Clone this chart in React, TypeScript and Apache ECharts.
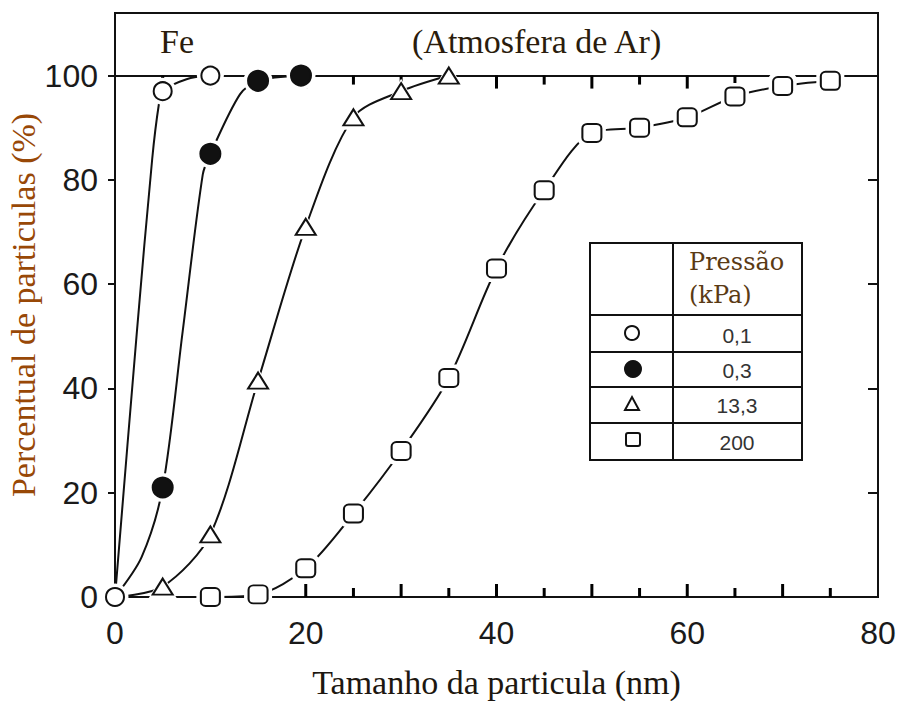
import React, { useEffect, useRef } from "react";
import * as echarts from "echarts";

// ---- data ----
const yLabelValues = [0, 20, 40, 60, 80, 100];
const yRightTicks = [20, 40, 60, 80];
const xMajorTicks = [10, 20, 30, 40, 50, 60, 70];
const xMinorTicks = [5, 15, 25, 35, 45, 55, 65, 75];

// Pressão 0,1 kPa (open circles)
const markers01 = [[0, 0], [5, 97], [10, 100]];
const curve01 = [[0, 0], [2.3, 51], [3.9, 84], [4.6, 94.5], [5, 97], [7.5, 99.3], [10, 100]];

// Pressão 0,3 kPa (filled circles)
const markers03 = [[5, 21], [10, 85], [15, 99], [19.5, 100]];
const curve03 = [[0, 0], [2.8, 7.7], [5, 21], [7.1, 51], [9.2, 81], [10, 85], [13.1, 96.4], [15, 99], [19.5, 100]];

// Pressão 13,3 kPa (triangles)
const markers133 = [[5, 2], [10, 12], [15, 41.5], [20, 71], [25, 92], [30, 97], [35, 100]];
const curve133 = [[0, 0], [5, 2], [10, 12], [15, 41.5], [20, 71], [25, 92], [30, 97], [35, 100]];

// Pressão 200 kPa (squares)
const markers200 = [[10, 0], [15, 0.5], [20, 5.5], [25, 16], [30, 28], [35, 42], [40, 63], [45, 78], [50, 89], [55, 90], [60, 92], [65, 96], [70, 98], [75, 99]];

const pressureLabels = ["0,1", "0,3", "13,3", "200"];

const INK = "#111";
const SANS = "'Liberation Sans', Arial, sans-serif";
const SERIF = "'Liberation Serif', 'Times New Roman', serif";

function group(name: string, curve: number[][], markers: number[][], symbol: string, size: number | number[], fill: string, smooth: number) {
  const haloSize = Array.isArray(size) ? size.map((s) => s + 9) : size + 9;
  return [
    {
      name,
      type: "line",
      data: curve,
      showSymbol: false,
      symbol: "none",
      smooth,
      lineStyle: { color: INK, width: 2 },
      z: 2,
      silent: true,
    },
    {
      name: name + " halo",
      type: "scatter",
      data: markers,
      symbol,
      symbolSize: haloSize,
      itemStyle: { color: "#fff", borderWidth: 0, opacity: 1 },
      z: 3,
      silent: true,
    },
    {
      name: name + " pts",
      type: "scatter",
      data: markers,
      symbol,
      symbolSize: size,
      itemStyle: { color: fill, borderColor: INK, borderWidth: 2, opacity: 1 },
      z: 4,
    },
  ];
}

// x tick marks as thin rect symbols placed through the axes' scales
function tickScatter(values: number[], yValue: number, len: number, dir: number) {
  return {
    type: "scatter",
    data: values.map((v) => [v, yValue]),
    symbol: "rect",
    symbolSize: [3, len],
    symbolOffset: [0, (dir * len) / 2],
    itemStyle: { color: "#000", opacity: 1, borderWidth: 0 },
    z: 1,
    silent: true,
    clip: false,
  };
}

export default function App() {
  const ref = useRef<HTMLDivElement>(null);
  useEffect(() => {
    if (!ref.current) return;
    const chart = echarts.init(ref.current, undefined, { renderer: "svg" });

    const tableX = 590, tableY = 243, tableW = 212, tableH = 217, divX = 673;
    const rowLines = [315, 352, 387, 423];
    const rowCenters = [335, 370, 405, 442];

    const option: any = {
      animation: false,
      backgroundColor: "#fff",
      grid: { left: 115, right: 26, top: 13, bottom: 104, containLabel: false, outerBoundsMode: "none", show: true, borderColor: INK, borderWidth: 2, backgroundColor: "transparent" },
      xAxis: [
        {
          type: "value",
          min: 0,
          max: 80,
          interval: 20,
          name: "Tamanho da particula (nm)",
          nameLocation: "middle",
          nameGap: 68,
          nameMoveOverlap: false,
          nameTextStyle: { fontFamily: SERIF, fontSize: 34, color: "#1d1710" },
          axisLine: { show: true, onZero: false, lineStyle: { color: INK, width: 2 } },
          axisTick: { show: false },
          axisLabel: { fontFamily: SANS, fontSize: 32, color: "#1a1a1a", margin: 20 },
          splitLine: { show: false },
        },
        {
          type: "value",
          position: "top",
          offset: -63,
          min: 0,
          max: 80,
          interval: 10,
          axisLine: { show: true, onZero: false, lineStyle: { color: INK, width: 2 } },
          axisTick: { show: false },
          axisLabel: { show: false },
          splitLine: { show: false },
        },
      ],
      yAxis: [
        {
          type: "value",
          min: 0,
          max: 112,
          interval: 20,
          name: "Percentual de particulas (%)",
          nameLocation: "middle",
          nameGap: 75,
          nameMoveOverlap: false,
          nameTextStyle: { fontFamily: SERIF, fontSize: 34, color: "#984807" },
          axisLine: { show: true, onZero: false, lineStyle: { color: INK, width: 2 } },
          axisTick: { show: true, inside: false, length: 7, lineStyle: { color: INK, width: 2 }, customValues: yLabelValues },
          axisLabel: { customValues: yLabelValues, fontFamily: SANS, fontSize: 32, color: "#1a1a1a", margin: 17 },
          splitLine: { show: false },
        },
        {
          type: "value",
          position: "right",
          min: 0,
          max: 112,
          interval: 20,
          axisLine: { show: true, onZero: false, lineStyle: { color: INK, width: 2 } },
          axisTick: { show: true, inside: true, length: 10, lineStyle: { color: INK, width: 2 }, customValues: yRightTicks },
          axisLabel: { show: false },
          splitLine: { show: false },
        },
      ],
      series: [
        tickScatter(xMajorTicks, 0, 13, -1),
        tickScatter(xMinorTicks, 0, 9, -1),
        tickScatter(xMajorTicks, 100, 13, 1),
        tickScatter(xMinorTicks, 100, 9, 1),
        ...group("0,1 kPa", curve01, markers01, "circle", 18, "#fff", 0.3),
        ...group("0,3 kPa", curve03, markers03, "circle", 20, INK, 0.3),
        ...group("13,3 kPa", curve133, markers133, "triangle", [20, 16], "#fff", 0.3),
        ...group("200 kPa", markers200, markers200, "roundRect", [19, 18], "#fff", 0.3),
      ],
      graphic: [
        { type: "text", left: 160, top: 24, style: { text: "Fe", font: `34px ${SERIF}`, fill: "#2a1c0c" } },
        { type: "text", left: 412, top: 24, style: { text: "(Atmosfera de Ar)", font: `34px ${SERIF}`, fill: "#2a1c0c" } },
        {
          type: "group",
          children: [
            { type: "rect", shape: { x: tableX, y: tableY, width: tableW, height: tableH }, style: { fill: "#fff", stroke: INK, lineWidth: 2 } },
            { type: "line", shape: { x1: divX, y1: tableY, x2: divX, y2: tableY + tableH }, style: { stroke: INK, lineWidth: 2 } },
            ...rowLines.map((y) => ({ type: "line", shape: { x1: tableX, y1: y, x2: tableX + tableW, y2: y }, style: { stroke: INK, lineWidth: 2 } })),
            { type: "text", x: 689, y: 262, style: { text: "Pressão", font: `24px 'DejaVu Serif', serif`, fill: "#5a3a14", verticalAlign: "middle", align: "left" } },
            { type: "text", x: 689, y: 295, style: { text: "(kPa)", font: `24px 'DejaVu Serif', serif`, fill: "#5a3a14", verticalAlign: "middle", align: "left" } },
            ...pressureLabels.map((t, i) => ({ type: "text", x: 737, y: rowCenters[i], style: { text: t, font: `21px ${SANS}`, fill: "#333", align: "center", verticalAlign: "middle" } })),
            { type: "circle", shape: { cx: 632, cy: rowCenters[0] - 2, r: 7 }, style: { fill: "#fff", stroke: INK, lineWidth: 2 } },
            { type: "circle", shape: { cx: 633, cy: rowCenters[1] - 1, r: 9 }, style: { fill: INK } },
            { type: "polygon", shape: { points: [[625, 410], [639, 410], [632, 397]] }, style: { fill: "#fff", stroke: INK, lineWidth: 2 } },
            { type: "rect", shape: { x: 626, y: 433, width: 14, height: 13, r: 2 }, style: { fill: "#fff", stroke: INK, lineWidth: 2 } },
          ],
        },
      ],
    };
    chart.setOption(option);
    return () => chart.dispose();
  }, []);
  return <div ref={ref} style={{ position: "fixed", left: 0, top: 0, width: 904, height: 701 }} />;
}
